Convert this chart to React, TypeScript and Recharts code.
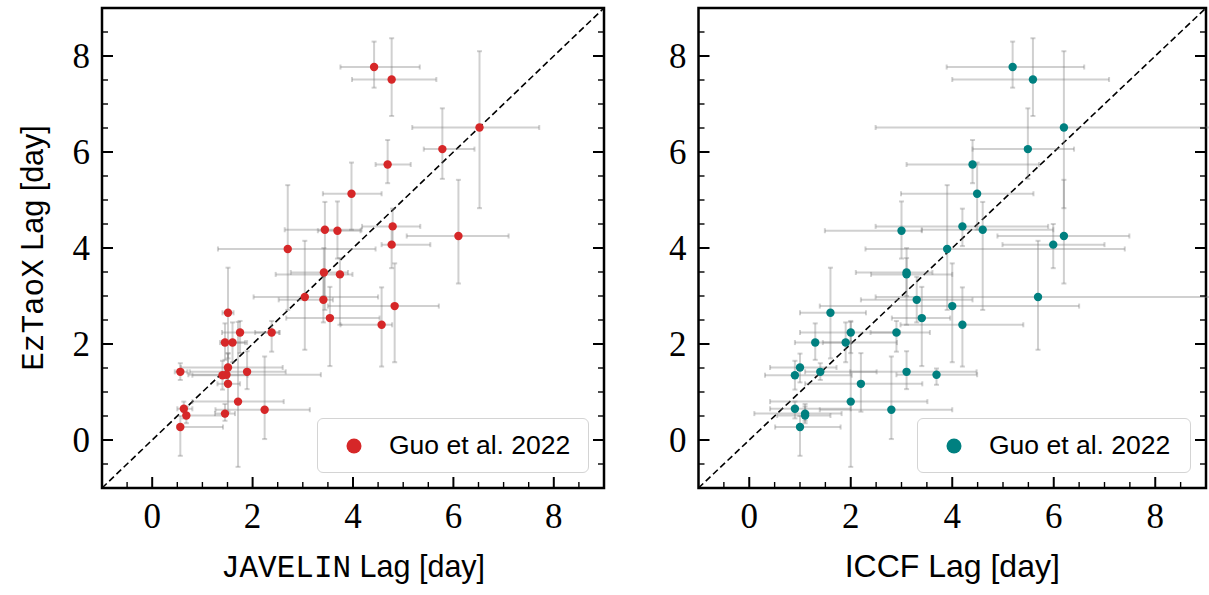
import { ScatterChart, Scatter, XAxis, YAxis, ErrorBar, ReferenceLine, ReferenceArea, Legend } from "recharts"

const RED = "#d62728"
const TEAL = "#008080"
const BAR = "#808080"
const SERIF = "'Liberation Serif', 'DejaVu Serif', serif"
const SANS = "'Liberation Sans', Arial, sans-serif"
const MONO = "'Liberation Mono', 'DejaVu Sans Mono', monospace"

const TICKS = [-0.5, 0, 0.5, 1, 1.5, 2, 2.5, 3, 3.5, 4, 4.5, 5, 5.5, 6, 6.5, 7, 7.5, 8, 8.5]
const MAJOR = [0, 2, 4, 6, 8]

// EzTaoX lag (shared y values) with lower/upper bounds
const EZ_LAG = [7.77, 7.51, 6.51, 6.06, 5.74, 5.13, 4.45, 4.07, 4.25, 4.38, 4.36, 3.98, 3.49, 3.45, 2.98, 2.92, 2.79, 2.54, 2.4, 2.24, 2.24, 2.65, 2.03, 2.03, 1.51, 1.42, 1.42, 1.35, 1.36, 1.17, 0.8, 0.63, 0.55, 0.65, 0.51, 0.27]
const EZ_LO = [7.34, 6.75, 4.83, 5.44, 5.35, 4.38, 4.04, 3.58, 3.26, 2.71, 3.78, 2.71, 3.0, 2.4, 1.88, 2.45, 1.62, 1.54, 1.53, 1.84, 1.81, 1.7, 1.67, 1.62, 1.2, 1.25, 1.06, 1.05, 1.15, 0.59, -0.56, 0.02, 0.4, 0.45, 0.35, -0.33]
const EZ_HI = [8.3, 8.37, 8.1, 6.91, 6.25, 5.78, 4.82, 4.5, 5.42, 4.96, 4.97, 5.31, 4.0, 3.79, 4.15, 3.4, 3.68, 3.19, 3.18, 2.48, 2.48, 3.59, 2.43, 2.45, 1.8, 1.6, 1.85, 1.65, 1.49, 1.81, 2.46, 1.74, 0.75, 0.8, 0.7, 0.5]

const JAV_LAG = [4.42, 4.77, 6.52, 5.78, 4.69, 3.97, 4.79, 4.77, 6.1, 3.44, 3.69, 2.7, 3.42, 3.74, 3.04, 3.41, 4.83, 3.54, 4.57, 2.38, 1.75, 1.51, 1.45, 1.6, 1.51, 0.56, 1.89, 1.4, 1.48, 1.51, 1.71, 2.24, 1.45, 0.63, 0.68, 0.56]
const JAV_LO = [3.75, 3.98, 5.18, 5.41, 4.45, 3.4, 4.18, 4.57, 5.07, 2.64, 3.3, 1.31, 2.76, 2.46, 2.02, 2.52, 3.5, 2.67, 3.75, 2.05, 1.39, 1.4, 1.35, 1.39, 0.57, 0.45, 0.75, 0.8, 0.72, 1.3, 0.8, 1.26, 1.25, 0.5, 0.64, 0.5]
const JAV_HI = [5.33, 5.66, 7.71, 6.42, 5.15, 4.57, 5.34, 5.54, 7.1, 4.17, 4.15, 4.45, 3.9, 3.99, 4.5, 3.6, 5.71, 4.53, 4.78, 2.54, 2.53, 1.62, 1.85, 1.89, 2.6, 0.7, 2.66, 1.9, 3.36, 1.75, 2.62, 3.14, 1.65, 0.8, 1.44, 1.41]

const ICCF_LAG = [5.19, 5.59, 6.2, 5.49, 4.4, 4.49, 4.2, 5.99, 6.2, 4.6, 3.0, 3.9, 3.1, 3.1, 5.69, 3.3, 4.0, 3.4, 4.2, 2.9, 2.0, 1.6, 1.3, 1.9, 1.0, 1.4, 3.1, 0.9, 3.69, 2.2, 2.0, 2.8, 1.1, 0.9, 1.1, 1.0]
const ICCF_LO = [3.89, 4.0, 2.49, 4.4, 3.1, 2.99, 2.49, 4.99, 4.89, 3.4, 1.49, 2.29, 2.1, 2.4, 2.49, 2.2, 1.39, 2.81, 2.98, 2.39, 1.0, 1.0, 0.9, 1.45, 0.41, 1.1, 1.99, 0.31, 2.9, 1.1, 0.41, 1.39, 0.1, 0.41, 0.55, 0.51]
const ICCF_HI = [6.6, 7.09, 9.6, 6.4, 5.71, 5.6, 5.89, 7.0, 7.49, 5.99, 3.4, 7.4, 3.61, 4.0, 9.3, 4.4, 6.5, 3.96, 5.4, 3.56, 2.97, 2.3, 2.0, 2.91, 1.72, 2.51, 4.48, 2.02, 4.49, 3.41, 3.51, 4.0, 1.82, 2.0, 1.6, 1.8]

function buildRows(xs: number[], xLo: number[], xHi: number[]) {
  return xs.map((x, i) => ({
    x,
    y: EZ_LAG[i],
    xErr: [Math.max(0, x - xLo[i]), Math.max(0, xHi[i] - x)],
    yErr: [Math.max(0, EZ_LAG[i] - EZ_LO[i]), Math.max(0, EZ_HI[i] - EZ_LAG[i])],
  }))
}

type Side = "bottom" | "top" | "left" | "right"

function makeTick(side: Side) {
  return (props: any) => {
    const { x, y, payload } = props
    const v = payload.value
    const major = MAJOR.includes(v)
    const len = major ? 11 : 6
    const sw = major ? 2 : 1.4
    let x2 = x
    let y2 = y
    if (side === "bottom") y2 = y - len
    if (side === "top") y2 = y + len
    if (side === "left") x2 = x + len
    if (side === "right") x2 = x - len
    return (
      <g>
        <line x1={x} y1={y} x2={x2} y2={y2} stroke="#000" strokeWidth={sw} />
        {major && side === "bottom" && (
          <text x={x} y={y + 40} textAnchor="middle" fontFamily={SERIF} fontSize={35} fill="#000">
            {v}
          </text>
        )}
        {major && side === "left" && (
          <text x={x - 12} y={y + 12} textAnchor="end" fontFamily={SERIF} fontSize={35} fill="#000">
            {v}
          </text>
        )}
      </g>
    )
  }
}

function Panel({
  xs,
  xLo,
  xHi,
  color,
  xTitle,
  titleSize,
  width,
  margin,
  legendLeft,
  legendWidth,
  showYTitle,
}: {
  xs: number[]
  xLo: number[]
  xHi: number[]
  color: string
  xTitle: React.ReactNode
  titleSize: number
  width: number
  margin: { top: number; right: number; bottom: number; left: number }
  legendLeft: number
  legendWidth: number
  showYTitle: boolean
}) {
  const rows = buildRows(xs, xLo, xHi)
  return (
    <ScatterChart width={width} height={595} margin={margin}>
      <XAxis
        xAxisId="b"
        type="number"
        dataKey="x"
        domain={[-1, 9]}
        ticks={TICKS}
        interval={0}
        tickSize={0}
        tickMargin={0}
        tick={makeTick("bottom")}
        tickLine={false}
        axisLine={false}
        height={60}
        allowDataOverflow
        label={{
          content: (p: any) => {
            const vb = p.viewBox
            return (
              <text x={vb.x + vb.width / 2} y={vb.y + 89} textAnchor="middle" fontSize={titleSize} fontFamily={SANS} fill="#000">
                {xTitle}
              </text>
            )
          },
        }}
      />
      <XAxis
        xAxisId="t"
        orientation="top"
        type="number"
        domain={[-1, 9]}
        ticks={TICKS}
        interval={0}
        tickSize={0}
        tickMargin={0}
        tick={makeTick("top")}
        tickLine={false}
        axisLine={false}
        height={4}
        allowDataOverflow
      />
      <YAxis
        yAxisId="l"
        type="number"
        dataKey="y"
        domain={[-1, 9]}
        ticks={TICKS}
        interval={0}
        tickSize={0}
        tickMargin={0}
        tick={makeTick("left")}
        tickLine={false}
        axisLine={false}
        width={60}
        allowDataOverflow
        label={
          showYTitle
            ? {
                content: (p: any) => {
                  const vb = p.viewBox
                  const cx = vb.x + 1
                  const cy = vb.y + vb.height / 2
                  return (
                    <text
                      x={cx}
                      y={cy}
                      transform={`rotate(-90 ${cx} ${cy})`}
                      textAnchor="middle"
                      fontSize={30.5}
                      fontFamily={SANS}
                      fill="#000"
                    >
                      <tspan fontFamily={MONO} fontSize={31}>EzTaoX</tspan>
                      <tspan> Lag [day]</tspan>
                    </text>
                  )
                },
              }
            : undefined
        }
      />
      <YAxis
        yAxisId="r"
        orientation="right"
        type="number"
        domain={[-1, 9]}
        ticks={TICKS}
        interval={0}
        tickSize={0}
        tickMargin={0}
        tick={makeTick("right")}
        tickLine={false}
        axisLine={false}
        width={2}
        allowDataOverflow
      />
      <ReferenceLine
        xAxisId="b"
        yAxisId="l"
        segment={[
          { x: -1, y: -1 },
          { x: 9, y: 9 },
        ]}
        stroke="#000"
        strokeWidth={1.6}
        strokeDasharray="6.5 3.5"
      />
      <Scatter
        xAxisId="b"
        yAxisId="l"
        data={rows}
        name="Guo et al. 2022"
        fill={color}
        isAnimationActive={false}
        shape={(p: any) => <circle cx={p.cx} cy={p.cy} r={4.2} fill={color} />}
      >
        <ErrorBar dataKey="xErr" direction="x" width={2.5} stroke={BAR} strokeOpacity={0.37} strokeWidth={2} isAnimationActive={false} />
        <ErrorBar dataKey="yErr" direction="y" width={2.5} stroke={BAR} strokeOpacity={0.37} strokeWidth={2} isAnimationActive={false} />
      </Scatter>
      <ReferenceArea
        xAxisId="b"
        yAxisId="l"
        x1={-1}
        x2={9}
        y1={-1}
        y2={9}
        fill="none"
        fillOpacity={0}
        stroke="#000"
        strokeWidth={2.5}
        ifOverflow="visible"
      />
      <Legend
        layout="horizontal"
        verticalAlign="middle"
        align="center"
        wrapperStyle={{ left: legendLeft, top: 418, width: legendWidth, height: 55 }}
        content={() => (
          <div
            style={{
              boxSizing: "border-box",
              width: legendWidth,
              height: 55,
              border: "1.5px solid #d4d4d4",
              borderRadius: 6,
              background: "rgba(255,255,255,0.85)",
              display: "flex",
              alignItems: "center",
            }}
          >
            <svg width={16} height={16} style={{ marginLeft: 28 }}>
              <circle cx={8} cy={8} r={7.5} fill={color} />
            </svg>
            <span style={{ fontFamily: SANS, fontSize: 26.5, marginLeft: 27, color: "#000" }}>Guo et al. 2022</span>
          </div>
        )}
      />
    </ScatterChart>
  )
}

export default function App() {
  return (
    <div style={{ position: "absolute", left: 0, top: 0, width: 1209, height: 595, background: "#fff" }}>
      <div style={{ position: "absolute", left: 0, top: 0 }}>
        <Panel
          xs={JAV_LAG}
          xLo={JAV_LO}
          xHi={JAV_HI}
          color={RED}
          xTitle={
            <>
              <tspan fontFamily={MONO} fontSize={31}>JAVELIN</tspan>
              <tspan> Lag [day]</tspan>
            </>
          }
          titleSize={30.5}
          width={610}
          margin={{ top: 4, right: 4, bottom: 47, left: 42 }}
          legendLeft={317}
          legendWidth={272}
          showYTitle
        />
      </div>
      <div style={{ position: "absolute", left: 610, top: 0 }}>
        <Panel
          xs={ICCF_LAG}
          xLo={ICCF_LO}
          xHi={ICCF_HI}
          color={TEAL}
          xTitle={<tspan>ICCF Lag [day]</tspan>}
          titleSize={32}
          width={599}
          margin={{ top: 4, right: 1, bottom: 47, left: 28.5 }}
          legendLeft={307}
          legendWidth={274}
          showYTitle={false}
        />
      </div>
    </div>
  )
}
